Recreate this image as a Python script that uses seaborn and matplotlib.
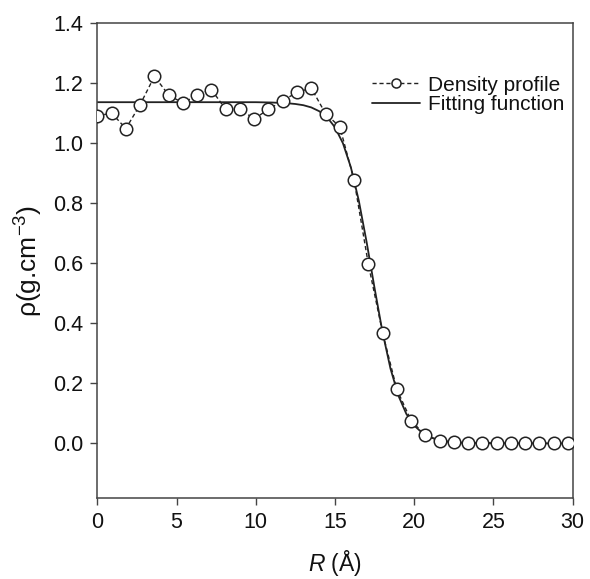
import matplotlib
matplotlib.use("Agg")
import matplotlib.pyplot as plt
import seaborn as sns
import pandas as pd

# Density profile
r_profile = [0.0, 0.9, 1.8, 2.7, 3.6, 4.5, 5.4, 6.3, 7.2, 8.1, 9.0, 9.9,
             10.8, 11.7, 12.6, 13.5, 14.4, 15.3, 16.2, 17.1, 18.0, 18.9,
             19.8, 20.7, 21.6, 22.5, 23.4, 24.3, 25.2, 26.1, 27.0, 27.9,
             28.8, 29.7]
rho_profile = [1.091, 1.101, 1.049, 1.129, 1.223, 1.161, 1.134, 1.161, 1.179,
               1.113, 1.113, 1.082, 1.113, 1.142, 1.170, 1.184, 1.099, 1.055,
               0.878, 0.598, 0.369, 0.180, 0.076, 0.027, 0.008, 0.003, 0.002,
               0.002, 0.002, 0.002, 0.002, 0.002, 0.002, 0.002]

# Fitting function
r_fit = [0.0, 10.0, 11.0, 12.0, 12.5, 13.0, 13.5, 14.0, 14.5, 15.0, 15.5,
         16.0, 16.5, 17.0, 17.5, 18.0, 18.5, 19.0, 19.5, 20.0, 20.5, 21.0,
         21.5, 22.0, 23.0, 24.0, 25.0, 27.0, 30.0]
rho_fit = [1.137, 1.137, 1.136, 1.1335, 1.131, 1.127, 1.1196, 1.107, 1.087,
           1.053, 1.000, 0.920, 0.809, 0.669, 0.516, 0.370, 0.249, 0.159,
           0.0982, 0.0592, 0.0352, 0.0207, 0.0121, 0.0071, 0.0024, 0.0008,
           0.0003, 0.0, 0.0]

x_ticks = [0, 5, 10, 15, 20, 25, 30]
y_ticks = [0.0, 0.2, 0.4, 0.6, 0.8, 1.0, 1.2, 1.4]
y_tick_labels = ["0.0", "0.2", "0.4", "0.6", "0.8", "1.0", "1.2", "1.4"]

sns.set_theme(style="ticks")
plt.rcParams["font.family"] = ["Liberation Sans", "DejaVu Sans"]
plt.rcParams["mathtext.fontset"] = "custom"
plt.rcParams["mathtext.rm"] = "Liberation Sans"
plt.rcParams["mathtext.it"] = "Liberation Sans:italic"

fig = plt.figure(figsize=(5.9, 5.79), dpi=100)
ax = fig.add_axes([0.165, 0.1394, 0.8057, 0.8204])

df_p = pd.DataFrame({"R": r_profile, "rho": rho_profile})
df_f = pd.DataFrame({"R": r_fit, "rho": rho_fit})

sns.lineplot(data=df_p, x="R", y="rho", ax=ax, color="#222222",
             linestyle=(0, (3, 2)), linewidth=1.0, marker="o",
             markersize=9, markerfacecolor="white",
             markeredgecolor="#222222", markeredgewidth=1.1,
             label="Density profile", zorder=3)
sns.lineplot(data=df_f, x="R", y="rho", ax=ax, color="#222222",
             linewidth=1.3, label="Fitting function", zorder=2)

ax.set_xlim(0, 30)
ax.set_ylim(-0.183, 1.4)
ax.set_xticks(x_ticks)
ax.set_yticks(y_ticks)
ax.set_yticklabels(y_tick_labels)
ax.tick_params(axis="both", direction="out", length=5, width=1.0,
               labelsize=15.5, color="#444444", labelcolor="#111111", pad=5)

for s in ax.spines.values():
    s.set_visible(True)
    s.set_color("#444444")
    s.set_linewidth(1.1)

ax.set_xlabel(r"$\mathit{R}$ (Å)", fontsize=16.5, labelpad=11, color="#111111")
ax.set_ylabel(r"ρ(g.cm$^{-3}$)", fontsize=19, labelpad=6, color="#111111")

leg = ax.legend(frameon=False, loc="upper right", fontsize=15,
                handlelength=2.27, handletextpad=0.4, labelspacing=0.02,
                bbox_to_anchor=(1.0, 0.907), borderaxespad=0.0)
for t in leg.get_texts():
    t.set_color("#111111")
leg.legend_handles[0].set_markersize(6.5)

fig.savefig("out.png", dpi=100)
